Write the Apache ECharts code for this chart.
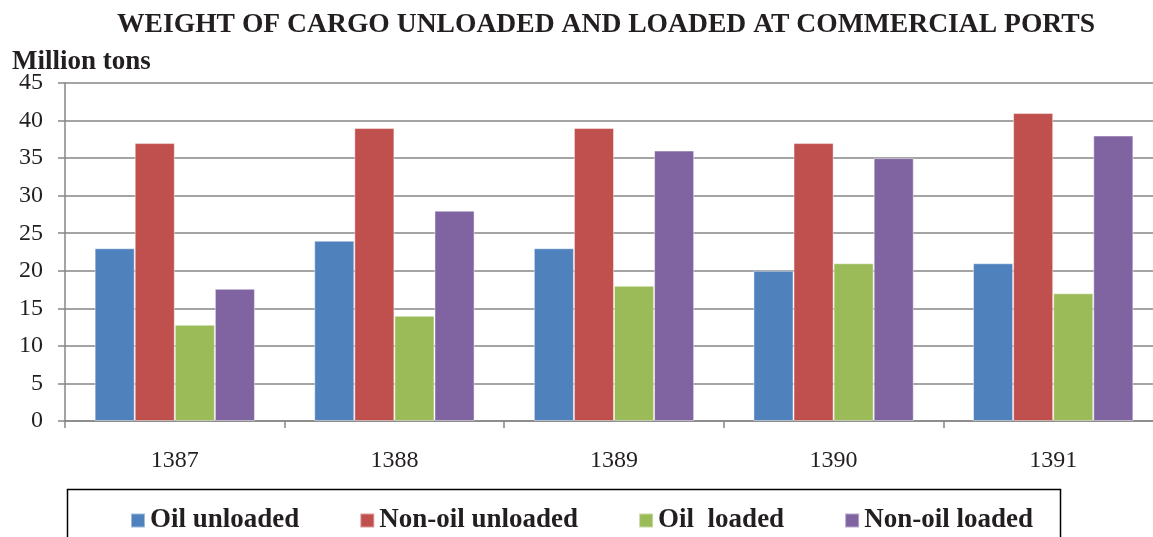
<!DOCTYPE html>
<html><head><meta charset="utf-8">
<script src="https://cdn.jsdelivr.net/npm/echarts@6/dist/echarts.min.js"></script>
<style>html,body{margin:0;padding:0;background:#fff;overflow:hidden}#c{width:1175px;height:537px}</style>
</head><body><div id="c"></div>
<script>
const categories = ['1387', '1388', '1389', '1390', '1391'];
const oilUnloaded = [23, 24, 23, 20, 21];
const nonOilUnloaded = [37, 39, 39, 37, 41];
const oilLoaded = [12.8, 14, 18, 21, 17];
const nonOilLoaded = [17.6, 28, 36, 35, 38];
const seriesNames = ['Oil unloaded', 'Non-oil unloaded', 'Oil  loaded', 'Non-oil loaded'];
const colors = ['#4F81BD', '#C0504D', '#9BBB59', '#8064A2'];

const font = '"Liberation Serif", "Times New Roman", serif';
const chart = echarts.init(document.getElementById('c'), null, {renderer: 'canvas'});
const mk = (name, data, i) => ({
  name, type: 'bar', data, barGap: '0%', barCategoryGap: '27%',
  itemStyle: {color: colors[i], borderColor: 'rgba(255,255,255,0.45)', borderWidth: 1},
  emphasis: {disabled: true}
});
chart.setOption({
  animation: false,
  backgroundColor: '#fff',
  textStyle: {fontFamily: font},
  grid: {left: 65, top: 83, width: 1098, height: 338, containLabel: false},
  graphic: [
    {type: 'text', x: 606, y: 25, style: {text: 'WEIGHT OF CARGO UNLOADED AND LOADED AT COMMERCIAL PORTS', font: 'bold 27.6px ' + font, fill: '#231F20', textAlign: 'center', textVerticalAlign: 'middle'}},
    {type: 'text', x: 12, y: 62, style: {text: 'Million tons', font: 'bold 27px ' + font, fill: '#231F20', textAlign: 'left', textVerticalAlign: 'middle'}},
    {type: 'rect', shape: {x: 67.5, y: 489.5, width: 993, height: 70}, style: {fill: 'none', stroke: '#000', lineWidth: 1.5}}
  ],
  legend: {
    left: 125, top: 502, itemWidth: 14, itemHeight: 14, itemGap: 60,
    icon: 'rect',
    textStyle: {fontFamily: font, fontWeight: 'bold', fontSize: 27, color: '#231F20'},
    data: seriesNames
  },
  xAxis: {
    type: 'category', data: categories,
    axisLine: {lineStyle: {color: '#868686', width: 1.5}},
    axisTick: {show: true, length: 7, lineStyle: {color: '#868686', width: 1.5}},
    axisLabel: {fontFamily: font, fontSize: 24, color: '#231F20', margin: 28}
  },
  yAxis: {
    type: 'value', min: 0, max: 45, interval: 5,
    axisLine: {show: true, lineStyle: {color: '#868686', width: 1.5}},
    axisTick: {show: true, length: 7, lineStyle: {color: '#868686', width: 1.5}},
    axisLabel: {fontFamily: font, fontSize: 24, color: '#231F20', margin: 22},
    splitLine: {lineStyle: {color: '#868686', width: 1.5}}
  },
  series: [
    mk(seriesNames[0], oilUnloaded, 0),
    mk(seriesNames[1], nonOilUnloaded, 1),
    mk(seriesNames[2], oilLoaded, 2),
    mk(seriesNames[3], nonOilLoaded, 3)
  ]
});
</script></body></html>
